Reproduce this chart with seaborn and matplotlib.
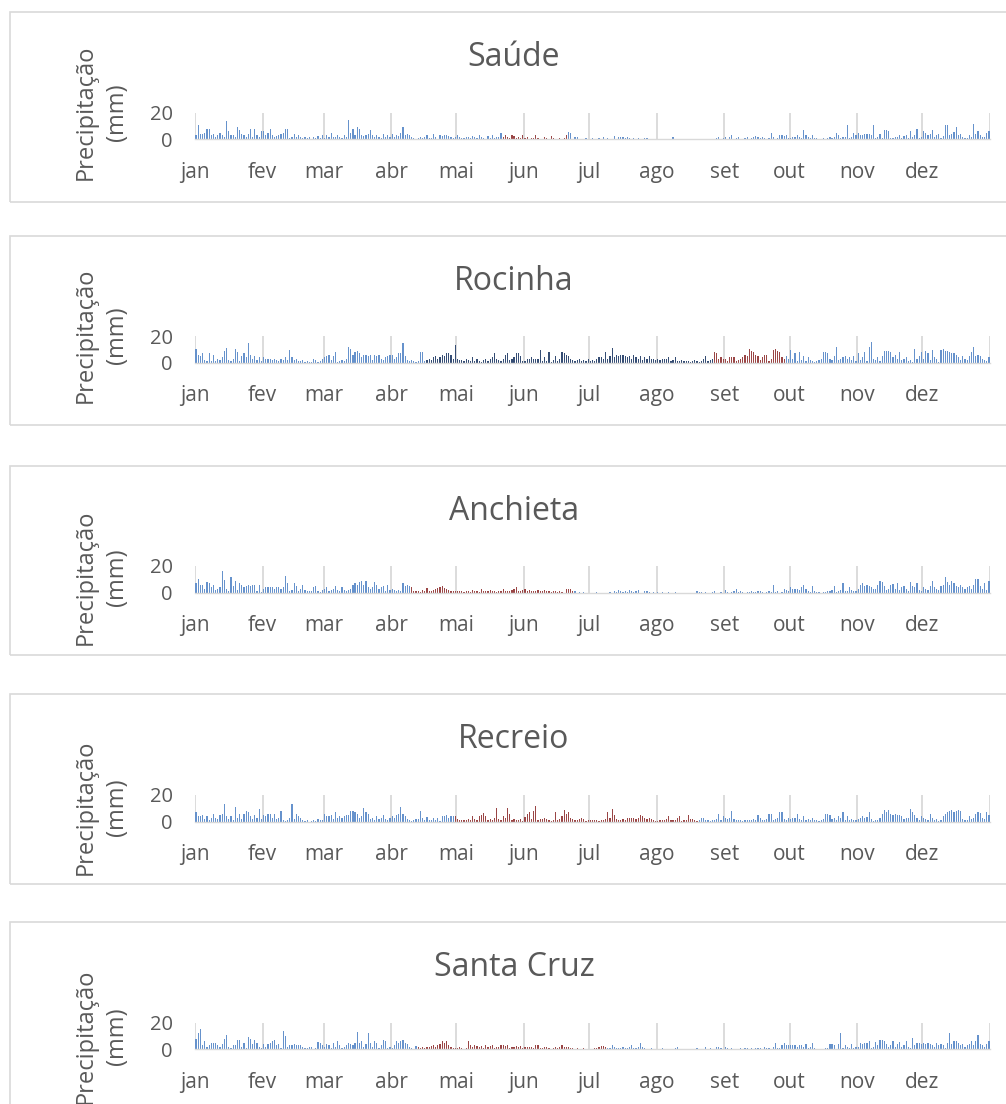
import numpy as np
import pandas as pd
import matplotlib
matplotlib.use("Agg")
import matplotlib.pyplot as plt
from matplotlib.patches import Rectangle
import seaborn as sns

# --- calendar -------------------------------------------------------------
months = ["jan", "fev", "mar", "abr", "mai", "jun", "jul", "ago", "set", "out", "nov", "dez"]
month_days = [31, 28, 31, 30, 31, 30, 31, 31, 30, 31, 30, 31]

# --- daily precipitation (mm), one sub-list per month ---------------------
saude_mm = [
    [3, 11, 4, 4, 5, 7.5, 7.5, 3, 4, 2, 3, 5, 3, 2, 14, 6, 3, 3, 2, 9, 7, 4, 3, 2, 4, 8, 2, 7.5, 3, 2, 6],
    [6.5, 3, 5, 8, 3, 2, 2.5, 3, 4, 5, 8, 8, 1, 1.5, 4, 2, 3, 1.5, 1, 2, 1, 1.5, 0.5, 2, 1, 2.5, 1, 3],
    [1, 3.5, 2, 4.5, 1.5, 2, 3, 1.5, 1, 3, 2, 14.5, 5, 7.5, 3, 9.5, 8, 3, 2.5, 3, 4, 7, 3, 2, 3, 1.5, 1, 4, 2, 3, 1.5],
    [4, 2, 3, 2.5, 5, 9, 3, 4, 3.5, 2, 1, 0.5, 1, 2, 1, 1.5, 3, 1, 1, 4, 1.5, 0.5, 3, 2.5, 3.5, 3, 2.5, 1.5, 1, 2],
    [3, 1.5, 1, 1, 1.5, 2, 1, 2.5, 1.5, 1, 3, 2, 1, 0.5, 2.5, 1, 3, 1, 2, 1.5, 4.5, 2, 3.5, 1.5, 1, 3, 2.5, 1, 2, 1, 3],
    [1, 2, 0.5, 1, 1, 3, 1, 0.5, 0.5, 1.5, 1, 0.5, 2.5, 1, 0.5, 0.5, 1, 0.5, 1, 3.5, 5.5, 5, 0.5, 1.5, 2, 0.5, 0, 0.5, 1, 0.5],
    [0.5, 1, 0.5, 0, 1, 0.5, 1.5, 0.5, 1, 0, 0.5, 2.5, 0.5, 1.5, 1.5, 1.5, 1, 2, 1, 0.5, 1, 0.5, 1, 0.5, 0, 1, 1, 0.5, 0, 0.5, 0.5],
    [0, 0.5, 0, 0, 0.5, 0, 0, 1.5, 0.5, 0, 0, 0, 0.5, 0, 0, 0, 0.5, 0, 0, 0, 0.5, 0, 0, 0, 0.5, 0, 0, 1, 1.5, 0.5, 1],
    [2, 0.5, 1.5, 3.5, 0.5, 1, 1.5, 0, 0.5, 1, 1.5, 0.5, 1, 2, 2.5, 2, 1, 1.5, 1, 0.5, 1, 5, 2, 0.5, 1, 3, 3, 2.5, 3, 1],
    [1, 2, 1.5, 3, 2, 1, 7, 3, 2, 1, 3.5, 1, 1, 0.5, 0.5, 1, 0.5, 1, 2, 1, 1.5, 4.5, 3, 1, 1.5, 2, 10.5, 1, 2, 4.5, 3],
    [5, 3, 3.5, 4, 4, 4, 3, 10.5, 1, 1.5, 4, 1, 7, 7, 6.5, 1, 1, 2, 1.5, 3, 1, 2.5, 3, 1, 6, 1.5, 3, 7.5, 1, 2],
    [6, 4.5, 3, 4, 7, 2, 3, 4, 1, 2.5, 10.5, 10.5, 3, 4, 5.5, 9, 3, 4, 2, 1, 1, 3, 2, 11.5, 4, 6, 3, 2, 1.5, 5, 6],
]

rocinha_mm = [
    [10, 6, 5, 7, 2, 1, 7, 1, 6, 1, 3, 2, 4, 9, 11, 2, 1, 3, 10, 8, 1, 5, 7, 4, 15, 6, 3, 5, 2, 4, 1],
    [4, 3, 3, 2.5, 2, 3, 2, 1.5, 2.5, 2, 4, 2, 9.5, 4, 2, 3, 1, 1.5, 2, 0.5, 1, 0.5, 0.5, 3, 2, 0.5, 1, 3],
    [4, 5, 6, 2, 5, 8, 0.5, 1, 2, 1, 3, 11.5, 10, 6, 8, 9, 7, 4, 6, 6, 5, 6, 2, 6, 5, 6, 3, 2, 4, 5, 6],
    [6, 3, 4, 7, 7.5, 15, 5, 2, 1, 2, 1, 0.5, 1, 8, 8, 1, 2, 3, 2, 4, 5, 3, 4, 6, 5, 7, 7, 6, 3, 13],
    [3, 2, 2, 1.5, 3, 2, 1, 4.5, 1, 3, 1, 0.5, 2, 3, 1, 2.5, 4, 7, 3, 2, 1, 3, 6, 7, 2, 3, 4, 7, 7, 5, 1],
    [1, 3, 3, 4, 3, 3, 2.5, 9.5, 1, 4, 1, 8, 0.5, 2, 5, 1, 3, 8, 7, 6, 5, 3, 2, 1.5, 2, 3, 1, 2, 1, 3],
    [1, 2, 1.5, 3, 4, 4, 3, 8, 3, 5, 11, 4, 6, 5, 6, 6, 5, 4, 5, 3, 6, 4, 3, 5, 2, 4, 3, 5, 3, 3, 2],
    [3, 2, 3, 2.5, 3, 4, 1, 2, 4, 1, 1, 2, 1, 1.5, 1, 0.5, 1, 2, 1, 0.5, 1, 3, 5, 1, 2, 3, 8, 7, 3, 4, 3],
    [3, 1, 4, 4, 4, 1, 2, 3, 4, 6, 5, 10.5, 9, 8, 6, 5, 2, 4, 6, 6, 1, 3, 9.5, 10, 9, 8, 4.5, 3, 5, 3],
    [9.5, 3, 7, 1, 8, 2, 5, 1, 4, 2, 1, 0.5, 1, 2, 3, 8, 8, 7, 3, 2, 5, 12, 2, 3, 4, 5, 3, 4, 2, 5, 1],
    [7, 2, 4, 8, 1, 12, 15.5, 3, 2, 4, 1, 5, 9, 9, 9, 8, 4, 6, 3, 8, 2, 3, 4, 1, 2, 0.5, 10, 3, 5, 8],
    [3, 9, 7, 2, 9.5, 4, 3, 0.5, 9.5, 10, 9, 9, 8, 7, 7, 6, 4, 2, 5, 3, 2, 5, 8, 11.5, 5, 6, 5, 3, 2, 1, 4],
]

anchieta_mm = [
    [7, 10, 6, 6, 3, 8, 7, 4, 6, 2, 3, 4, 16.5, 9.5, 3, 1, 12, 5, 9, 2, 7.5, 6, 4, 5, 6, 5, 6, 6, 1, 6, 0.5],
    [3, 4.5, 4, 4, 4, 3, 4, 4, 3, 4.5, 12.5, 7, 1, 2, 7, 5, 1, 3, 6, 2, 1, 1, 1.5, 4, 5, 1, 0.5, 2],
    [3, 4, 1, 2, 3, 5, 2, 1, 4, 2, 1, 2, 3, 6, 7, 6, 8, 9, 6, 9, 4, 3, 4, 8, 6, 3, 4, 5, 1, 6, 2],
    [3, 2, 1, 2, 1, 7.5, 5, 6, 5, 4, 1, 1.5, 1, 0.5, 2, 1, 3.5, 1, 1, 2, 3, 3.5, 4, 5, 3.5, 3, 2, 1, 1.5, 1],
    [1, 1.5, 1, 0.5, 1, 1, 0.5, 2, 1, 1, 0.5, 3, 1.5, 1, 1.5, 2, 1, 1, 0.5, 1, 1, 3, 1, 1.5, 1, 2, 3, 4.5, 1, 1, 2],
    [2.5, 1, 2, 1.5, 1, 1.5, 2, 1.5, 1, 2, 1.5, 1, 0.5, 1.5, 1, 0.5, 1, 0.5, 0, 3, 3, 2.5, 1.5, 1, 0, 0.5, 0, 0.5, 0, 0],
    [0, 0, 0, 0.5, 0, 0, 0, 0, 0, 0.5, 0, 1, 0.5, 2, 1, 0.5, 1, 0.5, 2, 1, 0.5, 1, 2, 0, 0, 1, 1, 0.5, 0, 0.5, 0],
    [0.5, 0, 0.5, 0, 0, 0.5, 0, 0, 0.5, 0, 0, 0, 0, 0, 0, 0, 0, 0, 1, 0.5, 0.5, 0, 0.5, 0, 0, 0.5, 1, 0, 0, 0.5, 0],
    [2, 0.5, 0, 0.5, 1, 2.5, 0.5, 1, 0.5, 0, 0.5, 0.5, 1, 0.5, 0.5, 1, 1, 0.5, 0, 0.5, 1.5, 0.5, 6, 0.5, 1, 0, 0.5, 3, 2, 1],
    [4, 3, 3, 3, 2, 4, 5.5, 3, 1, 0.5, 5, 1, 0.5, 0.5, 0, 0.5, 0.5, 1, 1.5, 2, 5, 0.5, 1, 2, 7, 1, 1, 4, 2, 1, 1],
    [3, 6, 7, 5, 6, 5, 4, 3, 3, 6, 9, 8, 5, 2, 3, 6, 6.5, 3, 7, 2, 4, 5, 3, 1.5, 8, 5, 4, 7.5, 2, 1],
    [4, 3, 2, 5, 9, 4, 3, 2, 5, 6, 11.5, 8, 6, 9, 7, 5, 4, 6, 4, 3, 4, 5, 3, 6, 10, 10, 5, 3, 7, 2, 9],
]

recreio_mm = [
    [7, 4, 4.5, 5, 2, 4, 1, 3, 6, 3, 2, 5, 6, 13, 4, 2, 4.5, 1, 11, 3, 6, 2, 6, 8, 7, 4, 2, 5, 3, 9.5, 2],
    [5, 4, 5.5, 6, 3, 6, 2, 3, 8, 1, 0.5, 1, 3, 13, 2, 6, 4, 3, 1, 0.5, 1, 0, 0.5, 1, 0.5, 2, 1.5, 1],
    [6, 4, 4.5, 5, 2, 7, 3, 4, 3, 4, 5, 5, 8, 8, 7.5, 6, 3, 4, 10.5, 7, 6, 2, 3, 1, 4, 2, 3, 5, 2, 1, 3],
    [4, 3, 5, 6, 11, 6, 4, 2, 1, 0.5, 1, 2, 2, 8, 3, 1, 3.5, 1, 1, 3, 1.5, 3, 0.5, 4, 4.5, 5, 3, 4, 4.5, 4],
    [2, 1.5, 1, 1, 1.5, 2, 1, 4.5, 2, 1, 4.5, 5, 6.5, 4, 1, 2, 1, 3, 10, 2, 1, 4.5, 3, 10.5, 5.5, 1, 2, 1.5, 1, 2, 0.5],
    [3.5, 6, 7, 2, 8, 11.5, 1, 2, 2, 3, 2, 1, 0.5, 1, 7, 1, 2, 4, 9, 6, 7, 3, 2, 1, 1, 2, 3, 2, 0.5, 1],
    [1, 1, 1.5, 1, 0.5, 1, 1.5, 2, 7, 3, 9.5, 5, 2, 1, 1, 2, 1, 3, 3, 2.5, 3, 2, 3, 5, 4, 3, 2, 3, 2, 1, 0.5],
    [0.5, 1, 1.5, 1, 2, 4.5, 1, 1.5, 1, 3, 4.5, 0.5, 1, 1, 5, 2, 2, 1, 0.5, 1, 2.5, 3, 1, 1.5, 0.5, 1, 1, 2, 6, 1, 4.5],
    [3, 2, 3, 8, 2, 1, 1, 1.5, 0.5, 1, 1, 1.5, 1, 2, 1.5, 5, 3, 1, 1, 2, 6, 6, 1, 2, 3, 7, 7.5, 2, 1, 3],
    [2, 3, 3, 6, 2, 1, 4.5, 1, 2, 1, 3, 1, 1, 0.5, 1, 2, 5.5, 6, 5, 2, 3, 1, 4, 3, 7, 1, 4.5, 1, 2, 1, 1.5],
    [2, 3, 4, 3, 3.5, 7, 2, 0.5, 1, 1, 3, 6, 9, 7, 8.5, 6, 5, 6, 5, 5, 4, 2, 3, 3, 9.5, 7, 5, 3, 1, 4],
    [3, 2, 1, 5.5, 3, 1, 2, 0.5, 1, 4, 6, 7, 8, 8.5, 7, 8, 9, 8, 2, 1, 1, 4.5, 2, 3, 6, 7, 6.5, 3, 2, 7, 5],
]

santa_cruz_mm = [
    [8, 12, 15, 3, 6, 2, 3.5, 5, 5, 4.5, 3, 2, 4, 8, 11, 2, 1, 3, 3, 7, 7, 2, 5, 1, 9.5, 8, 4, 7, 5, 2, 1],
    [4, 2, 4, 5, 6, 7, 3, 4, 1, 13.5, 10, 2, 3, 3.5, 4, 3.5, 3, 3, 2, 1, 1, 2, 1.5, 0.5, 1, 5.5, 5, 3],
    [2, 4, 3, 1, 5, 2, 6, 3, 1, 2, 3, 5, 4, 3, 5, 13, 5, 6, 2, 4, 12.5, 5, 2, 6, 5, 1, 3, 7, 6, 1, 2],
    [1, 3, 6, 5, 6, 7, 5, 4, 2, 1, 0.5, 2.5, 1.5, 1, 2, 1, 2, 1.5, 2.5, 3, 2, 3, 4, 6, 5, 6, 3, 2, 1, 1],
    [1, 1.5, 1, 0.5, 1, 6.5, 3, 2, 3, 2.5, 1.5, 2.5, 1, 3, 2, 2.5, 3, 1, 2, 1.5, 3, 3, 2.5, 3, 1, 2, 2, 2.5, 1.5, 2.5, 1],
    [2, 1.5, 2, 2, 1, 3, 3, 1, 1, 1.5, 2, 1, 0.5, 1, 1.5, 1, 2, 3.5, 2, 1.5, 1.5, 1, 1, 0.5, 1, 0.5, 0.5, 1, 0.5, 0.5],
    [0.5, 0.5, 1, 1, 2, 2.5, 2.5, 1.5, 1, 1, 3, 2, 1, 1, 1, 1.5, 1, 1, 2, 3, 1, 1, 1.5, 5, 2, 1, 0.5, 0.5, 1, 0.5, 0.5],
    [0, 0.5, 1, 0.5, 0.5, 0, 0, 0, 1, 2, 0.5, 0, 0, 0, 0, 0, 0.5, 0.5, 1, 0.5, 0, 0.5, 1.5, 0.5, 1, 0.5, 0.5, 1.5, 2, 1, 0.5],
    [1.5, 1, 0.5, 1, 0.5, 0.5, 0.5, 1, 0.5, 1, 1, 0.5, 1, 0.5, 1, 1, 1, 0.5, 1.5, 1, 1, 0.5, 2, 4.5, 1, 1, 3.5, 4.5, 3, 3],
    [3, 3.5, 3, 2, 3, 3.5, 2, 4, 1, 2, 5, 1, 0.5, 0.5, 0, 0.5, 1, 1, 4, 4, 3, 0.5, 4, 12, 1, 3, 2, 1, 4, 1, 2],
    [2, 5, 4, 5, 5, 6.5, 1, 2, 5.5, 3, 7, 7, 6, 4, 2, 3, 6, 2, 4, 5.5, 1.5, 3, 6, 2, 1, 8.5, 3, 5, 4.5, 4],
    [5, 4, 4.5, 4, 3, 2, 5, 3, 4, 3, 1, 5, 12, 4, 6, 6.5, 5, 3, 4, 2, 3, 4, 6, 3, 6, 11, 4, 3, 2, 4, 6.5],
]

# highlighted periods: (first day, last day + 1, period kind), day 0 = 1 jan
saude_periods = [(141, 171, "seco")]
rocinha_periods = [(106, 238, "umido"), (238, 271, "seco")]
anchieta_periods = [(99, 174, "seco")]
recreio_periods = [(119, 231, "seco")]
santa_cruz_periods = [(102, 189, "seco")]

stations = [
    ("Saúde", saude_mm, saude_periods),
    ("Rocinha", rocinha_mm, rocinha_periods),
    ("Anchieta", anchieta_mm, anchieta_periods),
    ("Recreio", recreio_mm, recreio_periods),
    ("Santa Cruz", santa_cruz_mm, santa_cruz_periods),
]

palette = {"normal": "#5590dd", "umido": "#2a4a7f", "seco": "#a83838"}
grey = "#d9d9d9"
text_col = "#595959"

sns.set_style("white")
plt.rcParams["font.family"] = ["Open Sans", "DejaVu Sans"]

W, H = 1006, 1104
fig = plt.figure(figsize=(W / 100, H / 100), dpi=100)

# pixel layout of each panel: (box top, box bottom, level-20 y, level-0 y, title y, ylabel y)
layout = [
    (12, 202, 112.7, 139.3, 57, 112),
    (236, 425, 336.0, 362.7, 281, 335),
    (466, 655, 566.0, 592.7, 511, 577),
    (694, 884, 795.0, 821.7, 740, 807),
    (922, 1130, 1022.7, 1049.3, 968, 1036),
]
x_left, x_right = 195, 990

month_starts = np.concatenate([[0], np.cumsum(month_days)])

for (name, monthly, periods), (bt, bb, y20, y0, ty, ly) in zip(stations, layout):
    for m, vals in zip(months, monthly):
        assert len(vals) == month_days[months.index(m)], (name, m, len(vals))
    values = np.concatenate([np.asarray(v, dtype=float) for v in monthly])
    kind = np.array(["normal"] * 365, dtype=object)
    for a, b, k in periods:
        kind[a:b] = k

    df = pd.DataFrame({"dia": np.arange(365) + 0.5, "mm": values, "periodo": kind})

    # frame around the chart block
    fig.add_artist(Rectangle((10 / W, 1 - bb / H), (1012 - 10) / W, (bb - bt) / H,
                             transform=fig.transFigure, fill=False, ec=grey, lw=1.2))

    ax = fig.add_axes([x_left / W, 1 - y0 / H, (x_right - x_left) / W, (y0 - y20) / H])
    sns.barplot(data=df, x="dia", y="mm", hue="periodo", palette=palette,
                native_scale=True, width=0.55, dodge=False, errorbar=None,
                legend=False, linewidth=0, ax=ax)

    ax.set_xlim(0, 365)
    ax.set_ylim(0, 20)
    ax.set_yticks([0, 20])
    ax.set_xticks(month_starts)
    ax.set_xticklabels(months + [""])
    ax.set_xlabel("")
    ax.set_ylabel("")
    ax.set_axisbelow(True)
    ax.xaxis.grid(True, color=grey, lw=1.3)
    ax.yaxis.grid(False)
    for side in ["top", "left", "right"]:
        ax.spines[side].set_visible(False)
    ax.spines["bottom"].set_color(grey)
    ax.spines["bottom"].set_linewidth(1.0)
    ax.tick_params(axis="x", length=6, width=1.3, color=grey, direction="out",
                   pad=10, labelsize=15, labelcolor=text_col)
    ax.tick_params(axis="y", length=0, pad=16, labelsize=14.5, labelcolor=text_col)

    fig.text(514 / W, 1 - ty / H, name, ha="center", va="center",
             fontsize=23, color=text_col)
    fig.text(101 / W, 1 - ly / H, "Precipitação\n(mm)", rotation=90,
             ha="center", va="center", multialignment="center",
             fontsize=17, color=text_col, linespacing=1.4)

fig.savefig("out.png", dpi=100, facecolor="white")
